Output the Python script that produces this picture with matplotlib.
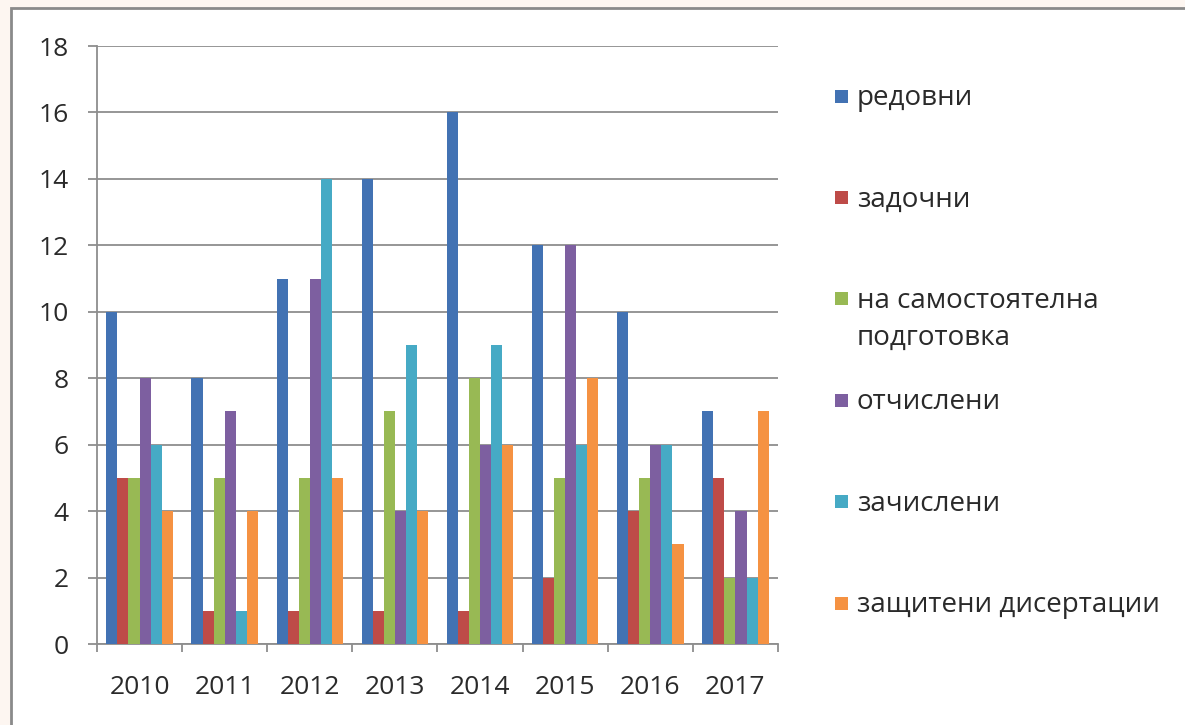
import matplotlib.pyplot as plt
import matplotlib.patches as mpatches
import numpy as np

# Données
years = ["2010", "2011", "2012", "2013", "2014", "2015", "2016", "2017"]
series_names = ["редовни", "задочни", "на самостоятелна\nподготовка",
                "отчислени", "зачислени", "защитени дисертации"]
redovni      = [10, 8, 11, 14, 16, 12, 10, 7]
zadochni     = [5, 1, 1, 1, 1, 2, 4, 5]
samostoyatel = [5, 5, 5, 7, 8, 5, 5, 2]
otchisleni   = [8, 7, 11, 4, 6, 12, 6, 4]
zachisleni   = [6, 1, 14, 9, 9, 6, 6, 2]
zashtiteni   = [4, 4, 5, 4, 6, 8, 3, 7]
y_ticks = [0, 2, 4, 6, 8, 10, 12, 14, 16, 18]

# Palette Excel 2007
COLORS = ["#4272b3", "#be4b48", "#98b954", "#7d5fa0", "#46aac5", "#f59242"]
GRID   = "#8e8e8e"
TEXT   = "#2a2a2a"
BG     = "#fdf6f1"

plt.rcParams["font.family"] = ["Open Sans", "DejaVu Sans"]

fig = plt.figure(figsize=(11.85, 7.25), dpi=100, facecolor=BG)
W, H = 1185, 725

# cadre blanc
frame = mpatches.Rectangle((11 / W, -0.05), 1.0, 1.05 - 8 / H, transform=fig.transFigure,
                           facecolor="white", edgecolor="#8a8a8a", linewidth=2, zorder=-5)
fig.patches.append(frame)

ax = fig.add_axes([97 / W, 1 - 644 / H, (778 - 97) / W, (644 - 46) / H])
ax.set_zorder(2)
ax.set_facecolor("white")

values = [redovni, zadochni, samostoyatel, otchisleni, zachisleni, zashtiteni]
x = np.arange(len(years)) + 0.5
w = 0.13
for i, (vals, c) in enumerate(zip(values, COLORS)):
    ax.bar(x + (i - 2.5) * w, vals, width=w, color=c, zorder=3, linewidth=0)

ax.set_xlim(0, len(years))
ax.set_ylim(0, 18)
ax.set_yticks(y_ticks)
ax.set_yticklabels([str(t) for t in y_ticks], fontsize=19, color=TEXT)
ax.yaxis.grid(True, color=GRID, linewidth=1.3, zorder=0)
ax.set_axisbelow(True)

ax.set_xticks(x)
ax.set_xticklabels(years, fontsize=19, color=TEXT)
ax.set_xticks(np.arange(len(years) + 1), minor=True)
ax.tick_params(axis="x", which="major", length=0, pad=22)
ax.tick_params(axis="x", which="minor", length=6, color=GRID, width=1.3)
ax.tick_params(axis="y", length=6.5, color=GRID, width=1.3, pad=14)

for side in ["top", "right"]:
    ax.spines[side].set_visible(False)
for side in ["left", "bottom"]:
    ax.spines[side].set_color(GRID)
    ax.spines[side].set_linewidth(1.3)

# légende à droite
for i, (name, c) in enumerate(zip(series_names, COLORS)):
    yc = 96 + i * 101.4
    sq = mpatches.Rectangle((835 / W, 1 - (yc + 6.5) / H), 13 / W, 13 / H,
                            transform=fig.transFigure, facecolor=c, edgecolor="none")
    fig.patches.append(sq)
    fig.text(857 / W, 1 - (yc - 12) / H, name, fontsize=20, color=TEXT,
             va="top", ha="left", linespacing=1.45)

plt.savefig("out.png", dpi=100, facecolor=BG)
